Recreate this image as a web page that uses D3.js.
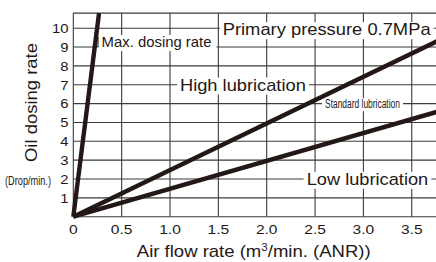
<!DOCTYPE html>
<html><head><meta charset="utf-8">
<script src="https://cdn.jsdelivr.net/npm/d3@7"></script>
<style>html,body{margin:0;padding:0;background:#fff;overflow:hidden}svg{display:block}text{font-family:"Liberation Sans",Arial,Helvetica,sans-serif;fill:#231815}</style>
</head><body>
<svg id="c" width="436" height="262"></svg>
<script>
// ---- data ----
const xTicks = [0, 0.5, 1.0, 1.5, 2.0, 2.5, 3.0, 3.5];
const xTickLabels = ["0", "0.5", "1.0", "1.5", "2.0", "2.5", "3.0", "3.5"];
const yTicks = [1, 2, 3, 4, 5, 6, 7, 8, 9, 10];
const seriesNames = ["Max. dosing rate", "High lubrication", "Standard lubrication", "Low lubrication"];
const maxDosing = [[0, 0], [0.266, 10.8]];
const highLub = [[0, 0], [3.8, 9.4]];
const lowLub = [[0, 0], [3.8, 5.62]];
const annotations = ["Max. dosing rate", "Primary pressure 0.7MPa", "High lubrication", "Standard lubrication", "Low lubrication"];

const svg = d3.select("#c");
const ink = "#231815", grid = "#3d3a3a";
const x = d3.scaleLinear().domain([0, 3.8]).range([73.3, 73.3 + 3.8 * 96.7]);
const y = d3.scaleLinear().domain([0, 10.8]).range([216.7, 13.1]);

// grid
const g = svg.append("g");
g.selectAll("line.v").data(xTicks).join("line")
  .attr("x1", d => x(d)).attr("x2", d => x(d)).attr("y1", y(0)).attr("y2", y(10.8))
  .attr("stroke", grid).attr("stroke-width", 1.1);
g.selectAll("line.h").data([0, ...yTicks, 10.8]).join("line").attr("class", "h")
  .attr("x1", x(0)).attr("x2", x(3.8)).attr("y1", d => y(d)).attr("y2", d => y(d))
  .attr("stroke", grid).attr("stroke-width", 1.1);

function stretch(sel, f) {
  sel.each(function () {
    const nat = this.getComputedTextLength();
    this.setAttribute("textLength", nat * f);
    this.setAttribute("lengthAdjust", "spacingAndGlyphs");
  });
}
// place text at (px,py) and squeeze/stretch it horizontally to width w via transform
function fitText(parent, str, px, py, fs, w, anchor) {
  const t = parent.append("text").attr("font-size", fs).attr("text-anchor", anchor || "start").text(str);
  const nat = t.node().getComputedTextLength();
  t.attr("transform", `translate(${px},${py}) scale(${w / nat},1)`);
  return t;
}

// ticks
const xt = svg.append("g").selectAll("text").data(xTicks).join("text")
  .attr("x", d => x(d)).attr("y", 234).attr("text-anchor", "middle")
  .attr("font-size", 13.5).text((d, i) => xTickLabels[i]);
stretch(xt, 1.15);
const yt = svg.append("g").selectAll("text").data(yTicks).join("text")
  .attr("x", 68.5).attr("y", d => y(d) + 4.9).attr("text-anchor", "end")
  .attr("font-size", 13.5).text(d => d);
stretch(yt, 1.1);

// annotation labels with white boxes
const labelSpecs = [
  { t: annotations[0], x0: 0.292, yv: 9, dy: 0, fs: 14.5, w: 110, box: [-3, -12, 5, 4] },
  { t: annotations[1], x0: 1.545, yv: 10, dy: 7, fs: 16, w: 208, box: [-3, -13, 3, 4] },
  { t: annotations[2], x0: 1.103, yv: 7, dy: 5.8, fs: 16, w: 126, box: [-3, -13, 3, 4] },
  { t: annotations[3], x0: 2.603, yv: 6, dy: 4.6, fs: 12, w: 75, box: [-3, -10, 3, 3] },
  { t: annotations[4], x0: 2.413, yv: 2, dy: 5.8, fs: 16, w: 121.7, box: [-3, -13, 3, 4] }
];
const lg = svg.append("g");
labelSpecs.forEach(s => {
  const bx = x(s.x0), by = y(s.yv) + s.dy;
  lg.append("rect").attr("x", bx + s.box[0]).attr("y", by + s.box[1])
    .attr("width", s.w - s.box[0] + s.box[2]).attr("height", -s.box[1] + s.box[3]).attr("fill", "#fff");
  fitText(lg, s.t, bx, by, s.fs, s.w);
});
// leader tick for max dosing label
lg.append("line").attr("x1", x(0.256)).attr("x2", x(0.256)).attr("y1", y(9) - 10).attr("y2", y(9))
  .attr("stroke", grid).attr("stroke-width", 1.1);

// data lines
const line = d3.line().x(d => x(d[0])).y(d => y(d[1]));
svg.append("g").selectAll("path").data([maxDosing, highLub, lowLub]).join("path")
  .attr("d", line).attr("fill", "none").attr("stroke", ink).attr("stroke-width", 4.4)
  .attr("stroke-linecap", "butt");

// axis titles
const xtitle = svg.append("text").attr("text-anchor", "middle").attr("font-size", 16);
xtitle.append("tspan").text("Air flow rate (m");
xtitle.append("tspan").attr("font-size", 10).attr("dy", -6).text("3");
xtitle.append("tspan").attr("dy", 6).text("/min. (ANR))");
const xtw = xtitle.node().getComputedTextLength();
xtitle.attr("transform", `translate(253.7,256.5) scale(${234 / xtw},1)`);

const yTitle = svg.append("g").attr("transform", "translate(37,102.5) rotate(-90)");
fitText(yTitle, "Oil dosing rate", 0, 0, 16.5, 119, "middle");
fitText(svg, "(Drop/min.)", 5, 185, 12.5, 46);
</script>
</body></html>
